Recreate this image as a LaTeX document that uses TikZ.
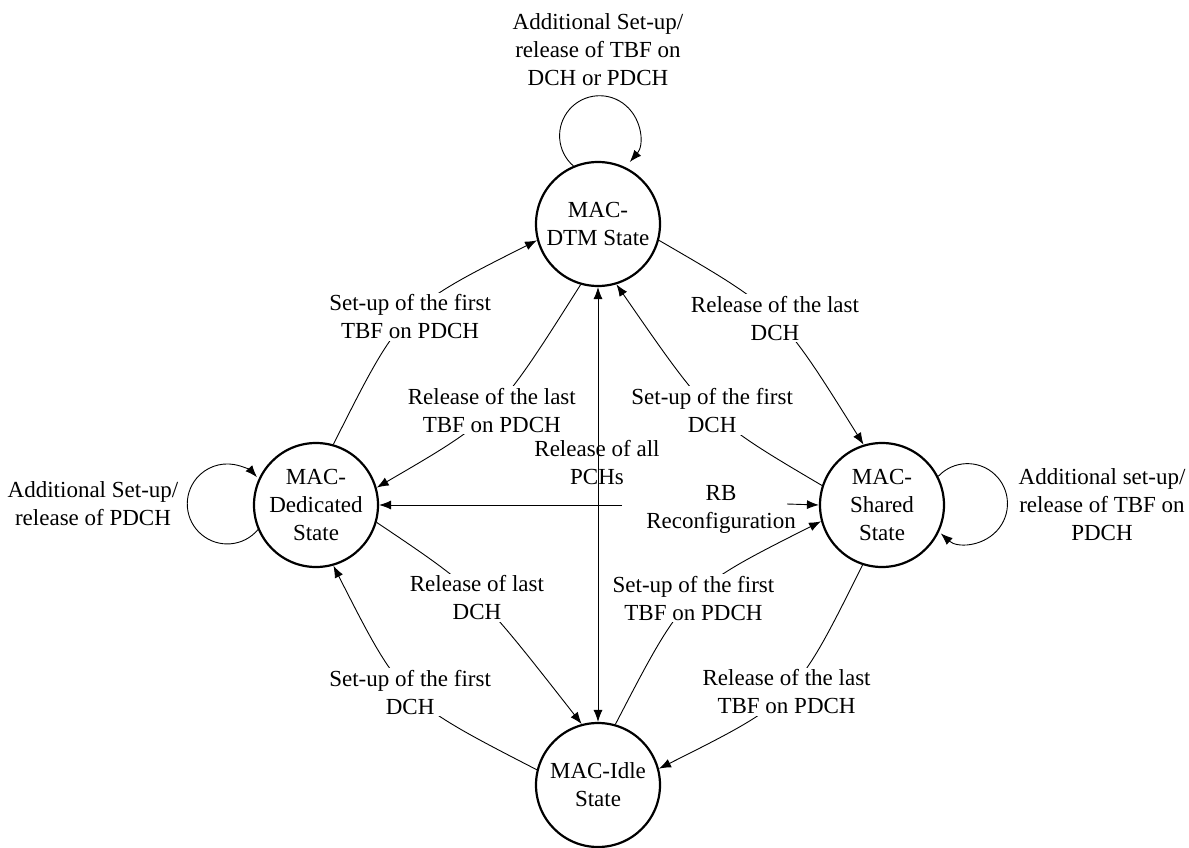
\documentclass[tikz,border=0pt]{standalone}
\usepackage{fontspec}
\setmainfont{Liberation Serif}
\usetikzlibrary{arrows.meta}
\tikzset{
  state/.style={circle, draw, line width=2.2pt, minimum size=124pt, inner sep=0pt, align=center, font=\fontsize{23}{28}\selectfont},
  lbl/.style={align=center, font=\fontsize{23}{28}\selectfont, inner sep=2pt},
  cut/.style={lbl, fill=white},
  tip/.tip={Latex[length=12pt,width=9pt]},
  conn/.style={line width=0.9pt, -tip},
}
\begin{document}
\begin{tikzpicture}[x=1pt,y=1pt]
\fill[white] (0,0) rectangle (1189,-848);
\useasboundingbox (0,0) rectangle (1189,-848);

\node[state] (dtm) at (598,-224) {MAC-\\DTM State};
\node[state] (ded) at (316,-505) {MAC-\\Dedicated\\State};
\node[state] (sha) at (882,-505) {MAC-\\Shared\\State};
\node[state] (idle) at (598,-785) {MAC-Idle\\State};

% self loops
\draw[conn] (dtm.113) arc[start angle=229, end angle=-41, radius=40pt];
\node[lbl] (ldtm) at (598,-50) {Additional Set-up/\\release of TBF on\\DCH or PDCH};
\draw[conn] (ded.203) arc[start angle=-40, end angle=-318, radius=40pt];
\node[lbl] (lded) at (93,-504) {Additional Set-up/\\release of PDCH};
\draw[conn] (sha.27) arc[start angle=137, end angle=-132, radius=40pt];
\node[lbl] (lsha) at (1102,-505) {Additional set-up/\\release of TBF on\\PDCH};

% curved transitions
\draw[conn] (ded.74) .. controls (401.7,-308.5) .. node[cut] (l1) {Set-up of the first\\TBF on PDCH} (dtm.195);
\draw[conn] (dtm.254) .. controls (496.2,-418) .. node[cut] (l2) {Release of the last\\TBF on PDCH} (ded.16);
\draw[conn] (dtm.345) .. controls (779.5,-310.2) .. node[cut] (l3) {Release of the last\\DCH} (sha.107);
\draw[conn] (sha.162) .. controls (709.8,-419.3) .. node[cut] (l4) {Set-up of the first\\DCH} (dtm.287);
\draw[conn] (idle.74) .. controls (685.2,-589.8) .. node[cut] (l5) {Set-up of the first\\TBF on PDCH} (sha.195);
\draw[conn] (sha.252) .. controls (795.2,-700.3) .. node[cut] (l6) {Release of the last\\TBF on PDCH} (idle.15);
\draw[conn] (ded.344) .. controls (476.2,-589.3) .. node[cut] (l7) {Release of last\\DCH} (idle.105);
\draw[conn] (idle.166) .. controls (401.8,-700.2) .. node[cut] (l8) {Set-up of the first\\DCH} (ded.286);

% vertical double arrow
\draw[line width=0.9pt, tip-tip] (dtm.south) -- (idle.north);
\node[lbl] (lpch) at (597,-463) {Release of all\\PCHs};

% RB reconfiguration
\coordinate (gl) at (622,-505);
\coordinate (gr) at (787,-504);
\draw[conn] (gl) -- (ded.east);
\draw[conn] (gr) -- (sha.west);
\node[lbl] (lrb) at (721,-509) {RB\\Reconfiguration};
\end{tikzpicture}
\end{document}
